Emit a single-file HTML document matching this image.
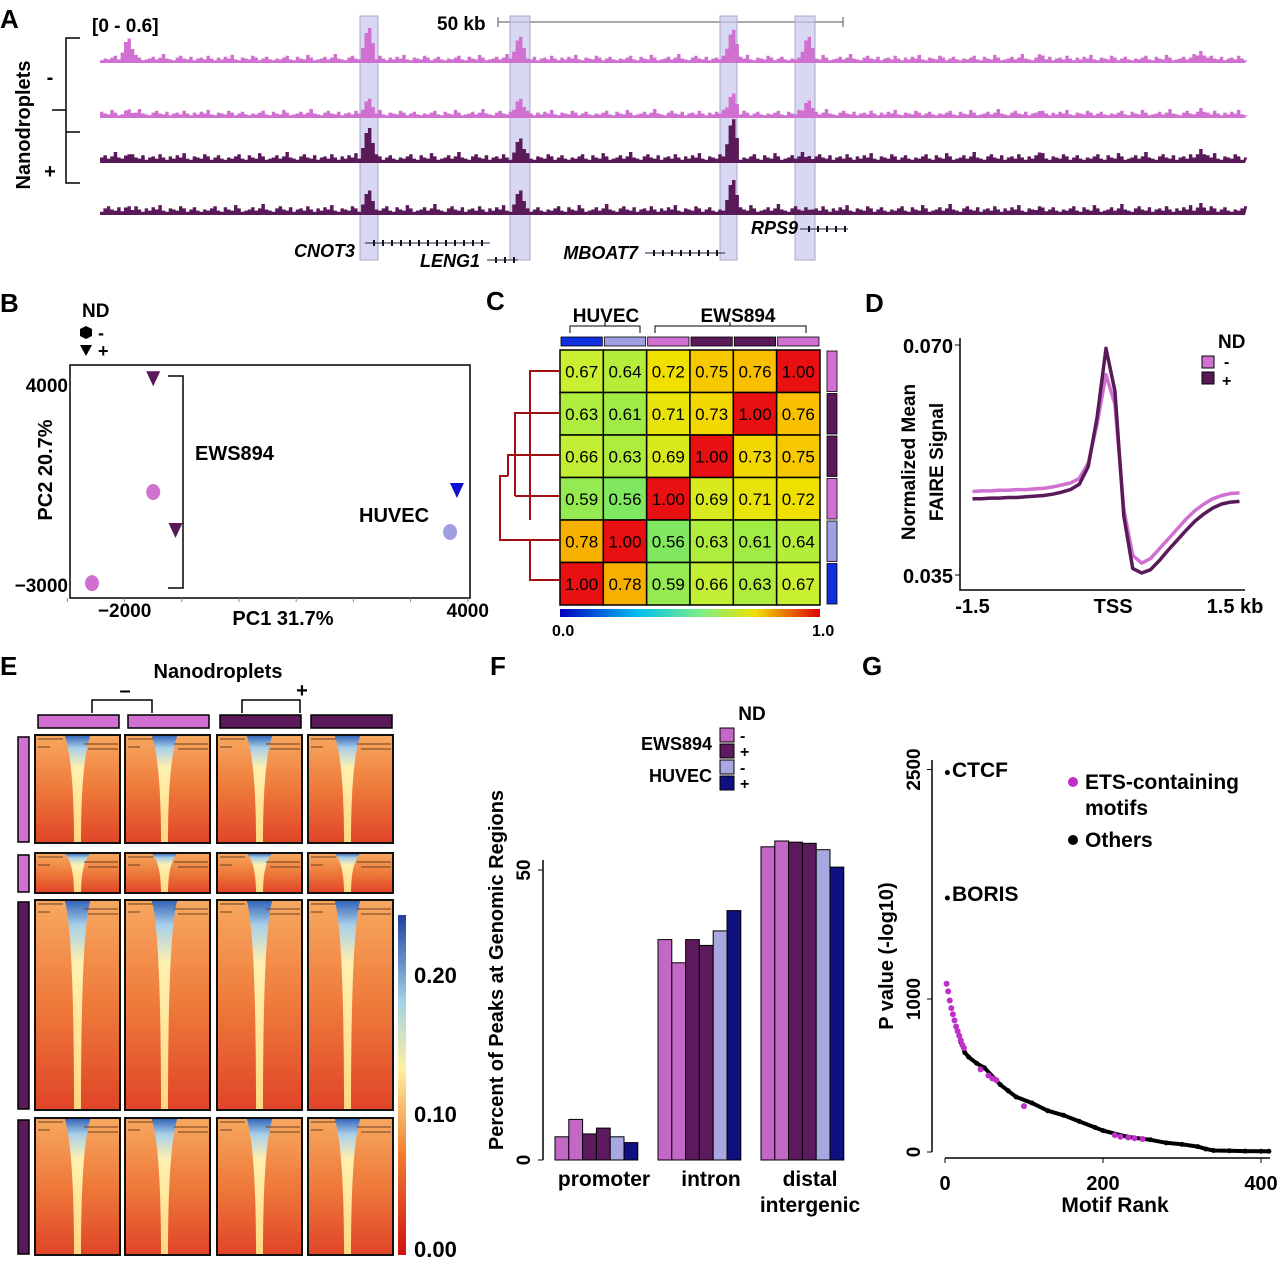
<!DOCTYPE html>
<html><head><meta charset="utf-8"><style>
body{margin:0;background:#fff;width:1280px;height:1260px;overflow:hidden;font-family:"Liberation Sans",sans-serif}
svg text{font-family:"Liberation Sans",sans-serif;font-weight:bold}
svg text.nb{font-weight:normal}
</style></head><body>
<svg id="fig" width="1280" height="1260" viewBox="0 0 1280 1260">
<defs>
<linearGradient id="hmBg" x1="0" y1="0" x2="0" y2="1"><stop offset="0" stop-color="#f7a860"/><stop offset="0.5" stop-color="#ee7a3a"/><stop offset="1" stop-color="#e04428"/></linearGradient>
<linearGradient id="hmV" x1="0" y1="0" x2="0" y2="1"><stop offset="0" stop-color="#3060b8"/><stop offset="0.12" stop-color="#a8d0e8"/><stop offset="0.3" stop-color="#fff0b0"/><stop offset="1" stop-color="#ffd880"/></linearGradient>
<linearGradient id="cbarC" x1="0" y1="0" x2="1" y2="0"><stop offset="0" stop-color="#0000c0"/><stop offset="0.3" stop-color="#00c0f0"/><stop offset="0.55" stop-color="#80f080"/><stop offset="0.75" stop-color="#f0e000"/><stop offset="1" stop-color="#e00000"/></linearGradient>
<linearGradient id="cbarE" x1="0" y1="1" x2="0" y2="0"><stop offset="0" stop-color="#d01010"/><stop offset="0.3" stop-color="#f08030"/><stop offset="0.55" stop-color="#fff0a0"/><stop offset="0.75" stop-color="#a0d0e8"/><stop offset="1" stop-color="#2040a0"/></linearGradient>
</defs>
<g id="pA"></g>
<g id="pB"></g>
<g id="pC"></g>
<g id="pD"></g>
<g id="pE"></g>
<g id="pF"></g>
<g id="pG"></g>
</svg>
<script>
// ---------- data ----------
const trackBaselines=[63,118,163,215];
const trackColors=["#d070d0","#d070d0","#5a1a5a","#5a1a5a"];
const peakPos=[23,233,365,551,617,820,960];
const peakH1=[28,40,30,38,30,10,12];
const peakH2=[10,22,22,28,20,8,10];
const peakH3=[10,40,28,50,8,12,14];
const peakH4=[10,28,28,40,6,10,12];
const noise=[3,5,4,6,8,4,3,7,5,4,9,6,3,4,5,7,4,6,10,5,4,3,6,8,5,4,7,3,5,6,4,8,5,3,6,4,7,5,9,4,3,6,5,4,8,6,3,5,7,4];
const pcX=[-1500,-2570,-1110,-1500,3810,3690];
const pcY=[4200,-2970,-1110,220,290,-1180];
const pcShape=["tri","circ","tri","circ","tri","circ"];
const pcCol=["#5a1a5a","#d070d0","#5a1a5a","#d070d0","#1010d0","#a0a0e0"];
const corr=[[0.67,0.64,0.72,0.75,0.76,1.00],[0.63,0.61,0.71,0.73,1.00,0.76],[0.66,0.63,0.69,1.00,0.73,0.75],[0.59,0.56,1.00,0.69,0.71,0.72],[0.78,1.00,0.56,0.63,0.61,0.64],[1.00,0.78,0.59,0.66,0.63,0.67]];
const dX=[-1.5,-1.4,-1.3,-1.2,-1.1,-1.0,-0.9,-0.8,-0.7,-0.6,-0.5,-0.4,-0.3,-0.2,-0.1,0,0.1,0.2,0.3,0.4,0.5,0.6,0.7,0.8,0.9,1.0,1.1,1.2,1.3,1.4,1.5];
const dMinus=[0.0477,0.0478,0.0478,0.0479,0.0479,0.048,0.048,0.0481,0.0482,0.0484,0.0487,0.049,0.0497,0.052,0.058,0.0655,0.061,0.045,0.038,0.0368,0.0375,0.039,0.0405,0.042,0.0435,0.0448,0.0458,0.0466,0.0471,0.0474,0.0475];
const dPlus=[0.0466,0.0466,0.0467,0.0467,0.0468,0.0468,0.0469,0.047,0.0471,0.0473,0.0476,0.048,0.0488,0.0515,0.059,0.0695,0.063,0.044,0.036,0.0353,0.0358,0.0372,0.0388,0.0403,0.0418,0.0432,0.0443,0.0452,0.0458,0.0461,0.0462];
const fCats=["promoter","intron","distal intergenic"];
const fVals=[[4,7,4.5,5.5,4,3],[38,34,38,37,39.5,43],[54,55,54.8,54.6,53.5,50.5]];
const fCols=["#c468c8","#c468c8","#5e1a5e","#5e1a5e","#a8a8e0","#101080"];
const gPurpleR=[2,4,6,8,10,12,14,16,18,20,22,24,45,55,60,65,100,215,222,232,240,250];
const gPurpleV=[1100,1050,990,940,900,860,820,790,760,730,700,680,540,500,480,470,300,110,100,95,90,85];
const gBlackR=[20,25,30,40,50,70,80,90,110,130,150,170,190,200,230,260,280,300,320,330,340,360,380,400,410];
const gBlackV=[720,650,620,580,550,440,400,360,320,270,240,200,160,140,100,80,60,50,35,20,10,8,6,5,5];

const NS="http://www.w3.org/2000/svg";
function el(p,t,a,txt){const e=document.createElementNS(NS,t);for(const k in a)e.setAttribute(k,a[k]);if(txt!==undefined)e.textContent=txt;p.appendChild(e);return e;}
function T(p,x,y,s,size,anchor,extra){const e=el(p,"text",Object.assign({x:x,y:y,"font-size":size||18,"text-anchor":anchor||"start"},extra||{}),s);return e;}

// ---------- Panel A ----------
const A=document.getElementById("pA");
T(A,0,28,"A",26);
T(A,92,32,"[0 - 0.6]",19);
T(A,437,30,"50 kb",19);
el(A,"path",{d:"M498 22H843M498 17V27M843 17V27",stroke:"#555","stroke-width":1,fill:"none"});
const hiX=[[360,378],[510,530],[720,737],[795,815]];
hiX.forEach(h=>{const r=el(A,"rect",{x:h[0],y:16,width:h[1]-h[0],height:244,fill:"#c8c8ec","fill-opacity":0.7,stroke:"#a8a8c8"});});
const gx=v=>100+v*1.145;
const peakSets=[peakH1,peakH2,peakH3,peakH4];
trackBaselines.forEach((b,ti)=>{
 const g=el(A,"g",{});
 let d="M100 "+b;
 for(let i=0;i<=1000;i+=3){
  let h=noise[(i/3+ti*7)%noise.length]*(ti>1?1.1:0.9);
  peakPos.forEach((p,k)=>{const dd=Math.abs(i-p);if(dd<6)h=Math.max(h,peakSets[ti][k]*(1-dd/8));});
  d+=" L"+gx(i).toFixed(1)+" "+(b-h).toFixed(1)+" L"+gx(i+3).toFixed(1)+" "+(b-h).toFixed(1);
 }
 d+=" L1245 "+b+" Z";
 el(g,"path",{d:d,fill:trackColors[ti]});
});
el(A,"path",{d:"M80 38H66V183H80M66 110H52M80 132H66",stroke:"#000","stroke-width":1.5,fill:"none"});
T(A,30,125,"Nanodroplets",20,"middle",{transform:"rotate(-90 30 125)"});
T(A,50,84,"-",20,"middle");T(A,50,178,"+",20,"middle");
[["CNOT3",355,257,365,490,243],["LENG1",480,267,487,518,260],["MBOAT7",638,259,645,725,253],["RPS9",798,234,800,848,229]].forEach(g=>{
 const t=T(A,g[1],g[2],g[0],18,"end",{"font-style":"italic"});
 el(A,"line",{x1:g[3],x2:g[4],y1:g[5],y2:g[5],stroke:"#223",'stroke-width':1});
 for(let x=g[3]+8;x<g[4];x+=9)el(A,"rect",{x:x,y:g[5]-3,width:2,height:6,fill:"#112"});
});

// ---------- Panel B ----------
const B=document.getElementById("pB");
T(B,0,312,"B",26);
T(B,82,317,"ND",19);
el(B,"polygon",{points:"86,326 92,329 92,336 86,339 80,336 80,329",fill:"#000"});T(B,98,339,"-",18);
el(B,"polygon",{points:"80,345 92,345 86,356",fill:"#000"});T(B,98,357,"+",18);
el(B,"rect",{x:70,y:365,width:400,height:233,fill:"none",stroke:"#000","stroke-width":1.5});
const bx=v=>239+v*0.0572, by=v=>584-(v+3000)*200/7000;
[-3000,-2000,-1000,0,1000,2000,3000,4000].forEach(v=>{el(B,"line",{x1:bx(v),x2:bx(v),y1:598,y2:602,stroke:"#888"});});
T(B,bx(-2000),617,"−2000",19,"middle");T(B,bx(4000),617,"4000",19,"middle");
T(B,68,392,"4000",19,"end");T(B,68,592,"−3000",19,"end");
T(B,283,625,"PC1 31.7%",20,"middle");
T(B,52,470,"PC2 20.7%",20,"middle",{transform:"rotate(-90 52 470)"});
pcX.forEach((v,i)=>{const x=bx(v),y=by(pcY[i]);let m;
 if(pcShape[i]=="tri")m=el(B,"polygon",{points:`${x-7},${y-7} ${x+7},${y-7} ${x},${y+8}`,fill:pcCol[i]});
 else m=el(B,"ellipse",{cx:x,cy:y,rx:7,ry:8,fill:pcCol[i]});
 });
el(B,"path",{d:"M168 376H183V588H168",stroke:"#000","stroke-width":1.5,fill:"none"});
T(B,195,460,"EWS894",20);T(B,359,522,"HUVEC",20);

// ---------- Panel C ----------
const C=document.getElementById("pC");
T(C,486,310,"C",26);
T(C,606,322,"HUVEC",19,"middle");T(C,738,322,"EWS894",19,"middle");
el(C,"path",{d:"M570 333V326H640V333M605 326V322M655 333V326H806V333M730 326V322",stroke:"#000",fill:"none"});
const topCols=["#1030e0","#a0a0e0","#d070d0","#5a1a5a","#5a1a5a","#d070d0"];
const cw=43.33,ch=42.5,cx0=560,cy0=350;
topCols.forEach((c,i)=>{el(C,"rect",{x:cx0+i*cw+1,y:337,width:cw-2,height:9,fill:c,stroke:"#000","stroke-width":0.8});});
const sideCols=["#d070d0","#5a1a5a","#5a1a5a","#d070d0","#a0a0e0","#1030e0"];
sideCols.forEach((c,i)=>{el(C,"rect",{x:827,y:cy0+i*ch+1,width:10,height:ch-2,fill:c,stroke:"#000","stroke-width":0.8});});
function jet(v){const s=[[0.5,[64,224,128]],[0.56,[128,232,96]],[0.62,[168,236,64]],[0.67,[200,240,48]],[0.72,[240,224,0]],[0.76,[248,192,0]],[0.8,[248,160,0]],[1,[232,16,16]]];
 for(let i=1;i<s.length;i++)if(v<=s[i][0]+1e-9){const t=(v-s[i-1][0])/(s[i][0]-s[i-1][0]);return "rgb("+s[i][1].map((x,k)=>Math.round(s[i-1][1][k]+(x-s[i-1][1][k])*t)).join(",")+")";}return "rgb(232,16,16)";}
corr.forEach((row,r)=>row.forEach((v,c)=>{
 const g=el(C,"g",{});
 el(g,"rect",{x:cx0+c*cw,y:cy0+r*ch,width:cw,height:ch,fill:jet(v),stroke:"#000","stroke-width":1.5});
 T(g,cx0+c*cw+cw/2,cy0+r*ch+ch/2+6,v.toFixed(2),17,"middle",{"class":"nb"});
}));
el(C,"path",{d:"M560 371H530V520M560 413H515V496M560 455H508V476M560 496H515M508 476H500V540H530M560 540H530V580H560",stroke:"#a01010","stroke-width":2,fill:"none"});
el(C,"rect",{x:560,y:609,width:260,height:8,fill:"url(#cbarC)"});
T(C,552,636,"0.0",16);T(C,812,636,"1.0",16);

// ---------- Panel D ----------
const D=document.getElementById("pD");
T(D,865,312,"D",26);
const dx=v=>1106+v*89, dy=v=>345+(0.070-v)*230/0.035;
el(D,"path",{d:"M960 338V590H1245",stroke:"#000","stroke-width":1.5,fill:"none"});
T(D,953,353,"0.070",20,"end");T(D,953,583,"0.035",20,"end");
el(D,"path",{d:"M960 345H955M960 575H955",stroke:"#000"});
T(D,dx(-1.5),613,"-1.5",20,"middle");T(D,dx(0.08),613,"TSS",20,"middle");T(D,dx(1.45),613,"1.5 kb",20,"middle");
T(D,915,462,"Normalized Mean",19,"middle",{transform:"rotate(-90 915 462)"});
T(D,943,462,"FAIRE Signal",19,"middle",{transform:"rotate(-90 943 462)"});
[[dMinus,"#d070d0"],[dPlus,"#5a1a5a"]].forEach(s=>{const p=el(D,"path",{d:"M"+dX.map((x,i)=>dx(x).toFixed(1)+" "+dy(s[0][i]).toFixed(1)).join(" L"),stroke:s[1],"stroke-width":3.5,fill:"none","stroke-linejoin":"round"});});
T(D,1218,348,"ND",19);
el(D,"rect",{x:1202,y:356,width:12,height:12,fill:"#d070d0",stroke:"#000"});T(D,1224,367,"-",16);
el(D,"rect",{x:1202,y:372,width:12,height:12,fill:"#5a1a5a",stroke:"#000"});T(D,1222,386,"+",16);

// ---------- Panel E ----------
const E=document.getElementById("pE");
T(E,0,675,"E",26);
T(E,218,678,"Nanodroplets",20,"middle");
el(E,"path",{d:"M92 713V700H152V713M242 713V700H300V713",stroke:"#000","stroke-width":1.5,fill:"none"});
T(E,125,697,"–",20,"middle");T(E,302,697,"+",20,"middle");
const eCols=[[35,120],[125,210],[217,302],[308,393]];
const eRows=[[735,843],[853,893],[900,1110],[1118,1255]];
const eColC=["#d070d0","#d070d0","#5a1a5a","#5a1a5a"];
const eRowC=["#d070d0","#d070d0","#5a1a5a","#5a1a5a"];
eCols.forEach((c,i)=>el(E,"rect",{x:c[0]+3,y:715,width:c[1]-c[0]-4,height:13,fill:eColC[i],stroke:"#000","stroke-width":1.5}));
eRows.forEach((r,j)=>{
 el(E,"rect",{x:18,y:r[0]+2,width:11,height:r[1]-r[0]-3,fill:eRowC[j],stroke:"#000","stroke-width":1.5});
 eCols.forEach((c,i)=>{
  const g=el(E,"g",{});
  const w=c[1]-c[0],h=r[1]-r[0],mx=c[0]+w*0.5+(i%2?-3:0);
  el(g,"rect",{x:c[0],y:r[0],width:w,height:h,fill:"url(#hmBg)"});
  const top=13,bot=3.5;
  el(g,"path",{d:`M${mx-top} ${r[0]} Q${mx-bot} ${r[0]+Math.min(30,h*0.25)} ${mx-bot} ${r[1]} L${mx+bot} ${r[1]} Q${mx+bot} ${r[0]+Math.min(30,h*0.25)} ${mx+top} ${r[0]} Z`,fill:"url(#hmV)"});
  el(g,"path",{d:`M${c[0]+3} ${r[0]+4}H${c[0]+28}M${c[0]+3} ${r[0]+12}H${c[0]+15}M${c[1]-36} ${r[0]+9}H${c[1]-2}M${c[1]-32} ${r[0]+14}H${c[1]-2}`,stroke:"#6a4020","stroke-width":1});
  el(g,"rect",{x:c[0],y:r[0],width:w,height:h,fill:"none",stroke:"#111","stroke-width":2});
 });
});
el(E,"rect",{x:398,y:915,width:8,height:340,fill:"url(#cbarE)"});
T(E,414,983,"0.20",22);T(E,414,1122,"0.10",22);T(E,414,1257,"0.00",22);

// ---------- Panel F ----------
const F=document.getElementById("pF");
T(F,490,675,"F",26);
const fy=v=>1160-v*5.8;
el(F,"path",{d:"M543 860V1160",stroke:"#000","stroke-width":1.5});
el(F,"path",{d:"M543 "+fy(50)+"H538M543 1160H538",stroke:"#000"});
T(F,530,fy(50),"50",19,"middle",{transform:`rotate(-90 530 ${fy(50)})`});
T(F,530,1160,"0",19,"middle",{transform:"rotate(-90 530 1160)"});
T(F,503,970,"Percent of Peaks at Genomic Regions",20,"middle",{transform:"rotate(-90 503 970)"});
const fStart=[555,658,761],bw=13.8;
fVals.forEach((grp,g)=>grp.forEach((v,k)=>{const r=el(F,"rect",{x:fStart[g]+k*bw,y:fy(v),width:bw,height:1160-fy(v),fill:fCols[k],stroke:"#000","stroke-width":1});}));
T(F,604,1186,fCats[0],21,"middle");T(F,711,1186,fCats[1],21,"middle");
T(F,810,1186,"distal",21,"middle");T(F,810,1212,"intergenic",21,"middle");
T(F,752,720,"ND",19,"middle");
T(F,712,750,"EWS894",18,"end");T(F,712,782,"HUVEC",18,"end");
[["#c468c8",728,"-"],["#5e1a5e",744,"+"],["#a8a8e0",760,"-"],["#101080",776,"+"]].forEach(l=>{el(F,"rect",{x:720,y:l[1],width:14,height:14,fill:l[0],stroke:"#000"});T(F,740,l[1]+13,l[2],16);});

// ---------- Panel G ----------
const G=document.getElementById("pG");
T(G,862,675,"G",26);
const gxx=v=>945+v*0.79, gyy=v=>1152-v*0.153;
el(G,"path",{d:"M932 760V1152M945 1158H1270",stroke:"#000","stroke-width":1.5,fill:"none"});
[0,1000,2500].forEach(v=>{T(G,920,gyy(v),String(v),19,"middle",{transform:`rotate(-90 920 ${gyy(v)})`});el(G,"line",{x1:927,x2:932,y1:gyy(v),y2:gyy(v),stroke:"#000"});});
[0,200,400].forEach(v=>{T(G,gxx(v),1190,String(v),20,"middle");el(G,"line",{x1:gxx(v),x2:gxx(v),y1:1158,y2:1163,stroke:"#000"});});
T(G,1115,1212,"Motif Rank",21,"middle");
T(G,893,956,"P value (-log10)",20,"middle",{transform:"rotate(-90 893 956)"});
el(G,"path",{d:"M"+gBlackR.map((r,i)=>gxx(r).toFixed(1)+" "+gyy(gBlackV[i]).toFixed(1)).join(" L"),stroke:"#000","stroke-width":4,fill:"none"});
gBlackR.forEach((r,i)=>{const c=el(G,"circle",{cx:gxx(r),cy:gyy(gBlackV[i]),r:2.5,fill:"#000"});});
gPurpleR.forEach((r,i)=>{const c=el(G,"circle",{cx:gxx(r),cy:gyy(gPurpleV[i]),r:3,fill:"#c030c8"});});
el(G,"circle",{cx:gxx(3),cy:gyy(2480),r:2.5,fill:"#000"});T(G,952,777,"CTCF",21);
el(G,"circle",{cx:gxx(3),cy:gyy(1660),r:2.5,fill:"#000"});T(G,952,901,"BORIS",21);
el(G,"circle",{cx:1073,cy:782,r:5,fill:"#c030c8"});T(G,1085,789,"ETS-containing",21);T(G,1085,815,"motifs",21);
el(G,"circle",{cx:1073,cy:840,r:5,fill:"#000"});T(G,1085,847,"Others",21);
</script>
</body></html>
